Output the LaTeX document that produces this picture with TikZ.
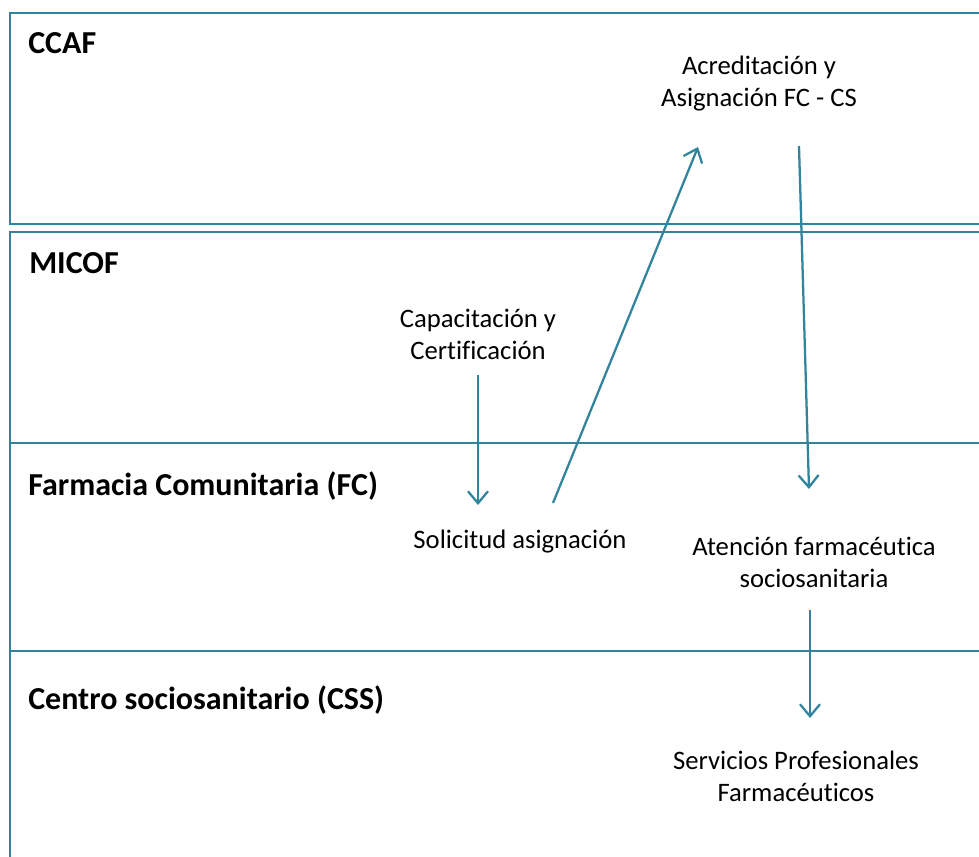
\documentclass[tikz,border=0pt]{standalone}
\usepackage{fontspec}
\setmainfont[Ligatures={NoCommon}]{Carlito}
\usetikzlibrary{arrows.meta}
\definecolor{teal1}{RGB}{49,132,155}
\tikzset{
  lane/.style={draw=teal1, line width=2pt},
  conn/.style={draw=teal1, line width=1.7pt, -{Straight Barb[length=9pt,width=15pt,line width=1.7pt]}},
  ttl/.style={anchor=west, inner sep=0pt, font=\fontsize{24}{28}\selectfont\bfseries},
  txt/.style={align=center, inner sep=0pt, font=\fontsize{20}{24}\selectfont}
}
\begin{document}
\begin{tikzpicture}[x=0.75pt,y=-0.75pt]
\useasboundingbox (0,0) rectangle (979,857);
\clip (0,0) rectangle (979,857);
\fill[white] (0,0) rectangle (979,857);
% lanes
\draw[lane] (10,13) rectangle (1000,224);
\draw[lane] (10,232) rectangle (1000,900);
\draw[lane] (10,443) -- (1000,443);
\draw[lane] (10,651) -- (1000,651);
% titles
\node[ttl] (tccaf) at (28,43) {CCAF};
\node[ttl] (tmicof) at (29,263) {MICOF};
\node[ttl] (tfc) at (28,486) {Farmacia Comunitaria (FC)};
\node[ttl] (tcss) at (28,700) {Centro sociosanitario (CSS)};
% texts
\node[txt] (acr) at (759,84) {Acreditación y\\Asignación FC - CS};
\node[txt] (cap) at (478,334) {Capacitación y\\Certificación};
\node[txt] (sol) at (520,542) {Solicitud asignación};
\node[txt] (ate) at (814,562) {Atención farmacéutica\\sociosanitaria};
\node[txt] (ser) at (796,776) {Servicios Profesionales\\Farmacéuticos};
% connector ends
\coordinate (c1s) at (478,375);
\coordinate (c1e) at (478,505);
\coordinate (c2s) at (553,503);
\coordinate (c2e) at (698,147);
\coordinate (c3s) at (799,146);
\coordinate (c3e) at (809,489);
\coordinate (c4s) at (810,610);
\coordinate (c4e) at (810,718);
\draw[conn] (c1s) -- (c1e);
\draw[conn] (c2s) -- (c2e);
\draw[conn] (c3s) -- (c3e);
\draw[conn] (c4s) -- (c4e);
\end{tikzpicture}
\end{document}
